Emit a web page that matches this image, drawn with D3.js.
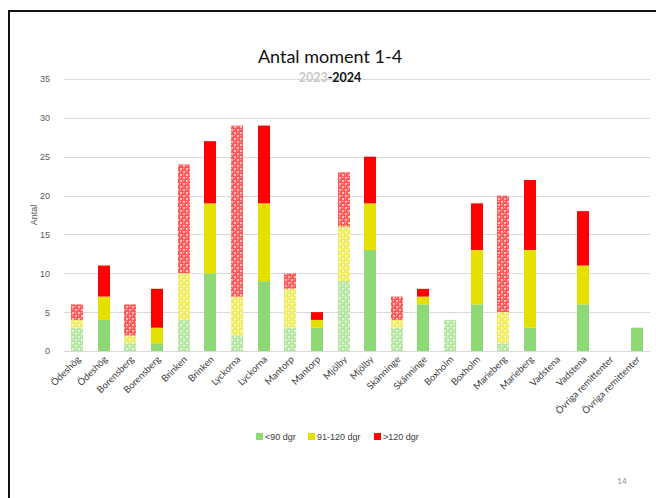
<!DOCTYPE html>
<html>
<head>
<meta charset="utf-8">
<script src="https://cdn.jsdelivr.net/npm/d3@7"></script>
<style>
  body { margin: 0; background: #fff; }
  svg { display: block; }
</style>
</head>
<body>
<svg id="chart" width="656" height="498"></svg>
<script>
    var categories = ["Ödeshög", "Ödeshög", "Borensberg", "Borensberg", "Brinken", "Brinken",
        "Lyckorna", "Lyckorna", "Mantorp", "Mantorp", "Mjölby", "Mjölby",
        "Skänninge", "Skänninge", "Boxholm", "Boxholm", "Marieberg", "Marieberg",
        "Vadstena", "Vadstena", "Övriga remittenter", "Övriga remittenter"];
    // 2023 = patterned bar, 2024 = solid bar
    var years = [2023, 2024, 2023, 2024, 2023, 2024, 2023, 2024, 2023, 2024, 2023,
        2024, 2023, 2024, 2023, 2024, 2023, 2024, 2023, 2024, 2023, 2024];
    var under90 = [3, 4, 1, 1, 4, 10, 2, 9, 3, 3, 9, 13, 3, 6, 4, 6, 1, 3, 0, 6, 0, 3];
    var d91to120 = [1, 3, 1, 2, 6, 9, 5, 10, 5, 1, 7, 6, 1, 1, 0, 7, 4, 10, 0, 5, 0, 0];
    var over120 = [2, 4, 4, 5, 14, 8, 22, 10, 2, 1, 7, 6, 3, 1, 0, 6, 15, 9, 0, 7, 0, 0];
    var seriesNames = ["<90 dgr", "91-120 dgr", ">120 dgr"];
    var seriesColors = ["#8fd876", "#e6e000", "#ff0000"];
    var lightColors = ["#b4e6a0", "#f0ec60", "#ff5a5a"];
    var yTicks = [0, 5, 10, 15, 20, 25, 30, 35];

    var svg = d3.select("#chart");

    // slide frame
    svg.append("rect")
        .attr("x", 9).attr("y", 11)
        .attr("width", 720).attr("height", 600)
        .attr("fill", "none").attr("stroke", "#111").attr("stroke-width", 2);

    var plotLeft = 64, plotRight = 650, plotTop = 79, plotBottom = 351;

    var x = d3.scaleBand()
        .domain(d3.range(categories.length))
        .range([plotLeft, plotRight])
        .paddingInner(0.54)
        .paddingOuter(0.27);

    var y = d3.scaleLinear()
        .domain([0, 35])
        .range([plotBottom, plotTop]);

    // dotted patterns for the 2023 bars (coarse cells so they read as light, not dark)
    var defs = svg.append("defs");
    var cells = [[0, 0, 2, 2], [3, 3, 2, 2], [3, 0, 1, 1], [0, 3, 1, 1]];
    seriesColors.forEach(function(c, i) {
        var p = defs.append("pattern")
            .attr("id", "pat" + i)
            .attr("width", 6).attr("height", 6)
            .attr("patternUnits", "userSpaceOnUse");
        p.append("rect").attr("width", 6).attr("height", 6)
            .attr("fill", lightColors[i]).attr("shape-rendering", "crispEdges");
        p.selectAll(".cell")
            .data(cells)
            .enter()
            .append("rect")
            .attr("x", function(d) { return d[0]; })
            .attr("y", function(d) { return d[1]; })
            .attr("width", function(d) { return d[2]; })
            .attr("height", function(d) { return d[3]; })
            .attr("fill", "#fff")
            .attr("fill-opacity", 0.6)
            .attr("shape-rendering", "crispEdges");
    });

    // gridlines
    svg.append("g")
        .selectAll("line")
        .data(yTicks)
        .enter()
        .append("line")
        .attr("x1", plotLeft).attr("x2", plotRight)
        .attr("y1", function(d) { return Math.round(y(d)) + 0.5; })
        .attr("y2", function(d) { return Math.round(y(d)) + 0.5; })
        .attr("stroke", "#d9d9d9")
        .attr("stroke-width", 1);

    // y axis labels
    var yAxis = d3.axisLeft(y).tickValues(yTicks).tickSize(0).tickPadding(14);
    var gy = svg.append("g")
        .attr("transform", "translate(" + plotLeft + ",0)")
        .call(yAxis);
    gy.select(".domain").remove();
    gy.selectAll("text")
        .attr("font-family", "Liberation Sans, Arial, sans-serif")
        .attr("font-size", 9)
        .attr("fill", "#595959");

    svg.append("text")
        .attr("transform", "translate(37," + ((plotTop + plotBottom) / 2) + ") rotate(-90)")
        .attr("text-anchor", "middle")
        .attr("font-family", "Liberation Sans, Arial, sans-serif")
        .attr("font-size", 9)
        .attr("fill", "#595959")
        .text("Antal");

    // title
    svg.append("text")
        .attr("x", 330).attr("y", 63)
        .attr("text-anchor", "middle")
        .attr("font-family", "Lato, sans-serif")
        .attr("font-size", 18)
        .attr("fill", "#111")
        .text("Antal moment 1-4");

    var sub = svg.append("text")
        .attr("x", 330).attr("y", 82)
        .attr("text-anchor", "middle")
        .attr("font-family", "Lato, sans-serif")
        .attr("font-weight", "bold")
        .attr("font-size", 12.5);
    sub.append("tspan").attr("fill", "#c8c8c8").text("2023");
    sub.append("tspan").attr("fill", "#111").text("-2024");

    // stacked bars
    var rows = categories.map(function(c, i) {
        return { i: i, v0: under90[i], v1: d91to120[i], v2: over120[i] };
    });
    var stack = d3.stack().keys(["v0", "v1", "v2"]);
    var layers = stack(rows);

    layers.forEach(function(layer, k) {
        svg.append("g")
            .selectAll("rect")
            .data(layer.filter(function(d) { return d[1] > d[0]; }))
            .enter()
            .append("rect")
            .attr("x", function(d) { return Math.round(x(d.data.i)); })
            .attr("width", Math.round(x.bandwidth()))
            .attr("y", function(d) { return y(d[1]); })
            .attr("height", function(d) { return y(d[0]) - y(d[1]); })
            .attr("fill", function(d) {
                return years[d.data.i] === 2023 ? "url(#pat" + k + ")" : seriesColors[k];
            });
    });

    // x labels
    svg.append("g")
        .selectAll("text")
        .data(categories)
        .enter()
        .append("text")
        .attr("transform", function(d, i) {
            var cx = x(i) + x.bandwidth() / 2 + 4;
            return "translate(" + cx + "," + (plotBottom + 9) + ") rotate(-45)";
        })
        .attr("text-anchor", "end")
        .attr("font-family", "Lato, sans-serif")
        .attr("font-size", 9.5)
        .attr("fill", "#404040")
        .text(function(d) { return d; });

    // legend
    var legendX = [256, 308, 374];
    var lg = svg.append("g");
    seriesNames.forEach(function(name, k) {
        lg.append("rect")
            .attr("x", legendX[k]).attr("y", 433)
            .attr("width", 7).attr("height", 7)
            .attr("fill", seriesColors[k]);
        lg.append("text")
            .attr("x", legendX[k] + 9).attr("y", 440)
            .attr("font-family", "Liberation Sans, Arial, sans-serif")
            .attr("font-size", 9)
            .attr("fill", "#404040")
            .text(name);
    });

    // page number
    svg.append("text")
        .attr("x", 622).attr("y", 484)
        .attr("text-anchor", "middle")
        .attr("font-family", "Lato, sans-serif")
        .attr("font-size", 8)
        .attr("fill", "#8c8c8c")
        .text("14");
</script>
</body>
</html>
